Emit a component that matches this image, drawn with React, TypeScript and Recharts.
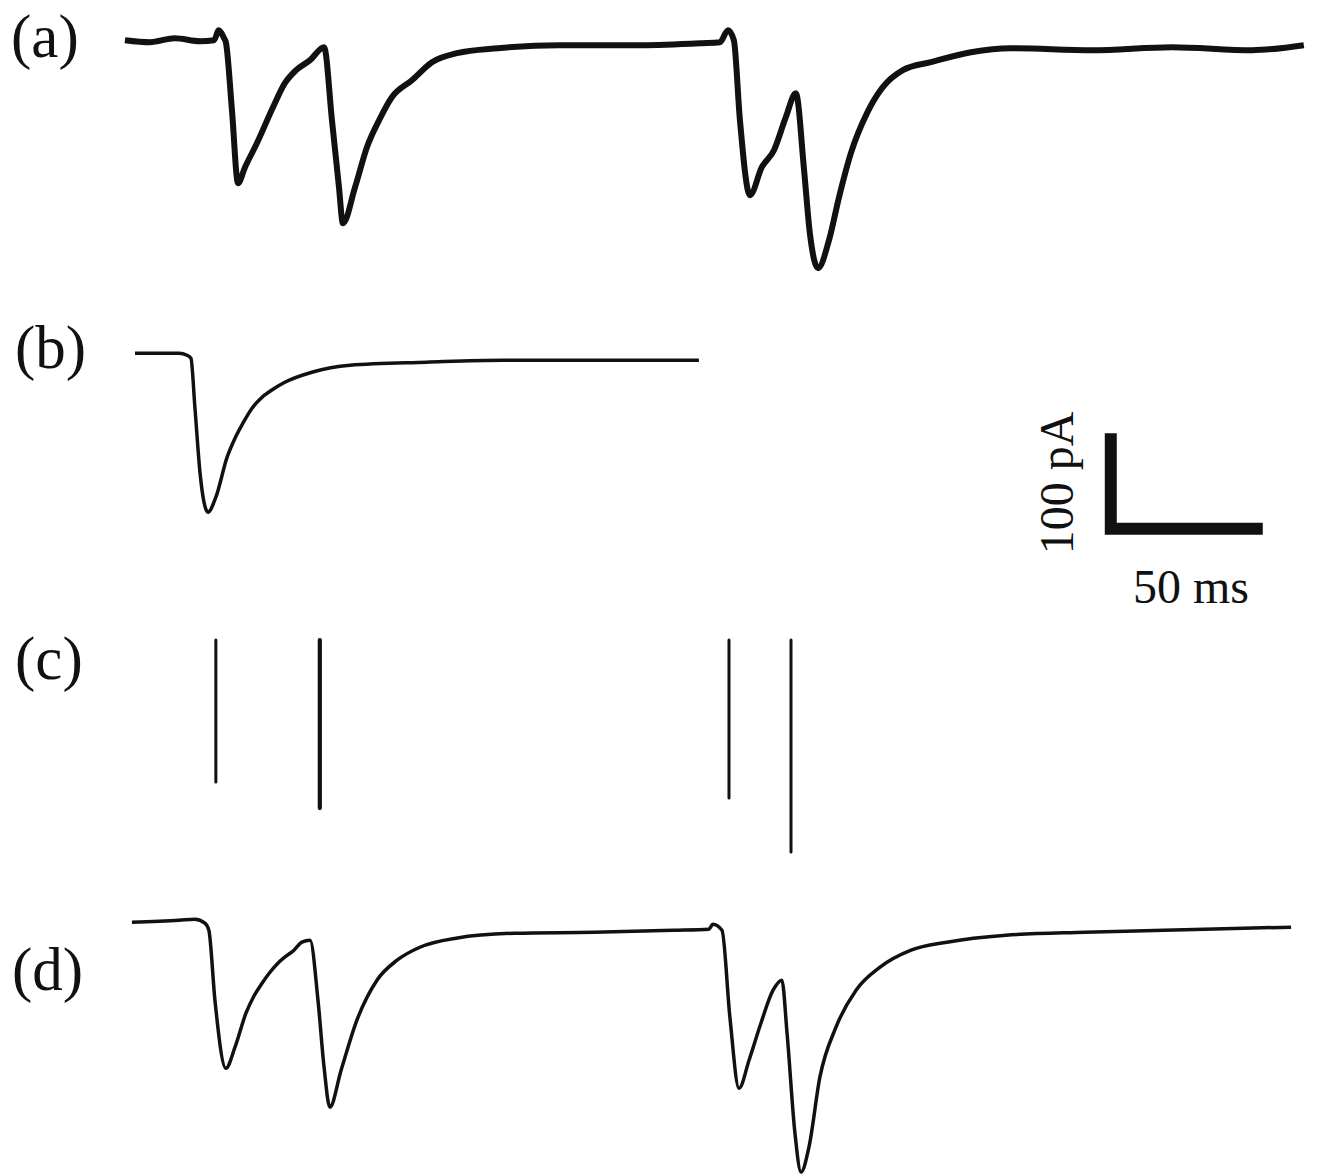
import { Line, LineChart, XAxis, YAxis } from 'recharts';

// shared time base (ms) and current scale (pA)
const T_DOMAIN: [number, number] = [-41.1, 394.1];
const PX_PER_PA = 0.955;
const W = 1323;

// (a) recorded current, pA
const recT = [
  0, 8.2, 16.4, 24.7, 29.3, 30.9, 32.6, 33.2, 35.2, 37.2, 39.5, 43.4, 48.7, 52.6, 56.3, 60.9,
  65.5, 68.1, 70.4, 71.7, 75.7, 79.6, 83.6, 87.8, 94.4, 101.0, 109.2, 122.7, 142.8, 169.7,
  189.8, 195.7, 198.4, 200.3, 202.3, 205.6, 209.5, 213.5, 217.4, 220.7, 223.4, 225.3, 228.0,
  231.6, 234.9, 238.8, 244.1, 249.3, 255.9, 265.1, 278.3, 291.4, 318.1, 344.4, 370.7, 387.8,
];
const recI = [
  0, -2.1, 2.1, -1.0, 0, 10.5, 2.1, -2.1, -73.3, -149.7, -133.0, -107.9, -70.2, -45.0, -31.4,
  -20.9, -7.3, -83.8, -153.9, -191.6, -153.9, -112.0, -83.8, -59.7, -41.9, -23.0, -13.6, -8.4,
  -5.2, -5.2, -3.1, -2.1, 10.5, 0, -83.8, -162.3, -133.0, -115.2, -80.6, -55.5, -136.1, -202.1,
  -238.7, -209.4, -164.4, -118.3, -76.4, -49.2, -31.4, -23.0, -12.6, -8.4, -10.5, -7.3, -10.5,
  -5.2,
];

// (b) unitary response, pA
const kerT = [
  3.3, 17.8, 20.4, 21.7, 23.0, 24.7, 27.3, 29.9, 33.6, 36.2, 38.8, 41.8, 45.1, 48.7, 52.6, 61.5,
  74.0, 99.3, 124.3, 149.7, 188.8,
];
const kerI = [
  0, 0, -2.1, -5.2, -56.5, -125.7, -166.5, -150.8, -108.9, -89.0, -73.3, -57.6, -46.1, -37.7,
  -30.4, -19.9, -12.6, -9.4, -7.3, -7.3, -7.3,
];

// (c) estimated release events
const spikeT = [29.9, 64.1, 198.7, 219.1];
const spikeAmp = [148.7, 175.9, 165.4, 222.0];

// (d) reconstruction, pA
const fitT = [
  2.3, 17.8, 23.0, 26.3, 27.6, 29.6, 33.2, 36.2, 39.8, 42.4, 45.1, 47.7, 50.3, 53.0, 55.6, 58.2,
  60.9, 63.5, 65.5, 67.4, 71.1, 76.3, 82.9, 89.5, 97.0, 108.9, 128.3, 154.3, 180.3, 192.1, 193.4,
  196.4, 199.0, 202.0, 205.3, 209.2, 213.2, 216.1, 217.8, 220.4, 222.4, 225.0, 228.6, 233.9,
  240.5, 248.4, 258.6, 270.4, 289.8, 315.8, 341.8, 367.8, 383.6,
];
const fitI = [
  -2.1, 0, 1.0, -3.1, -10.5, -83.8, -155.0, -133.0, -97.4, -79.6, -66.0, -54.5, -45.0, -37.7,
  -31.4, -23.0, -20.9, -83.8, -153.9, -195.8, -157.1, -104.7, -62.8, -41.9, -28.3, -18.8, -13.6,
  -12.6, -10.5, -9.4, -4.2, -10.5, -101.6, -175.9, -146.6, -107.9, -73.3, -62.8, -118.3, -223.0,
  -263.9, -237.7, -164.4, -112.0, -73.3, -49.2, -31.4, -23.0, -15.7, -12.6, -10.5, -8.4, -7.3,
];

// scale bar
const BAR_MS = 50;
const BAR_PA = 100;
const BAR_T0 = 324.3;
const BAR_I0 = -183.8;

const zip = (t: number[], v: number[]) => t.map((x, i) => ({ t: x, v: v[i] }));

const recRows = zip(recT, recI);
const kerRows = zip(kerT, kerI);
const fitRows = zip(fitT, fitI);
const barRows = [
  { t: BAR_T0, v: BAR_I0 + BAR_PA },
  { t: BAR_T0, v: BAR_I0 },
  { t: BAR_T0 + BAR_MS, v: BAR_I0 },
];
const spikeRows = spikeT.map((t, i) => [
  { t, v: 0 },
  { t, v: -spikeAmp[i] },
]);
const spikeWidths = [3, 4.2, 3, 3];

type PanelProps = {
  top: number;
  domain: [number, number];
  children: React.ReactNode;
};

function Panel({ top, domain, children }: PanelProps) {
  const height = (domain[1] - domain[0]) * PX_PER_PA;
  return (
    <div style={{ position: 'absolute', left: 0, top, width: W, height }}>
      <LineChart width={W} height={height} margin={{ top: 0, right: 0, bottom: 0, left: 0 }}>
        <XAxis type="number" dataKey="t" domain={T_DOMAIN} hide allowDataOverflow />
        <YAxis type="number" dataKey="v" domain={domain} hide allowDataOverflow />
        {children}
      </LineChart>
    </div>
  );
}

const serif = '"Liberation Serif", "DejaVu Serif", serif';

export default function App() {
  return (
    <div
      style={{
        position: 'absolute',
        left: 0,
        top: 0,
        width: W,
        height: 1175,
        background: '#fff',
        overflow: 'hidden',
      }}
    >
      <Panel top={1.8} domain={[-270, 40]}>
        <Line
          data={recRows}
          dataKey="v"
          type="monotone"
          stroke="#111"
          strokeWidth={6}
          strokeLinejoin="round"
          dot={false}
          activeDot={false}
          isAnimationActive={false}
        />
      </Panel>

      <Panel top={314.8} domain={[-200, 40]}>
        <Line
          data={kerRows}
          dataKey="v"
          type="monotone"
          stroke="#111"
          strokeWidth={3.5}
          dot={false}
          activeDot={false}
          isAnimationActive={false}
        />
        <Line
          data={barRows}
          dataKey="v"
          type="linear"
          stroke="#111"
          strokeWidth={12}
          strokeLinejoin="miter"
          strokeLinecap="butt"
          dot={false}
          activeDot={false}
          isAnimationActive={false}
        />
      </Panel>

      <Panel top={620.9} domain={[-240, 20]}>
        {spikeRows.map((rows, i) => (
          <Line
            key={i}
            data={rows}
            dataKey="v"
            type="linear"
            stroke="#111"
            strokeWidth={spikeWidths[i]}
            strokeLinecap="round"
            dot={false}
            activeDot={false}
            isAnimationActive={false}
          />
        ))}
      </Panel>

      <Panel top={881.8} domain={[-270, 40]}>
        <Line
          data={fitRows}
          dataKey="v"
          type="monotone"
          stroke="#111"
          strokeWidth={3.5}
          dot={false}
          activeDot={false}
          isAnimationActive={false}
        />
      </Panel>

      <svg
        width={W}
        height={1175}
        style={{ position: 'absolute', left: 0, top: 0, pointerEvents: 'none' }}
      >
        <g fontFamily={serif} fontSize={61} fill="#111">
          <text x={11} y={57}>(a)</text>
          <text x={15} y={368}>(b)</text>
          <text x={15} y={679}>(c)</text>
          <text x={12} y={990}>(d)</text>
        </g>
        <g fontFamily={serif} fontSize={48} fill="#111">
          <text x={1133} y={603}>50 ms</text>
          <text transform="translate(1073,483) rotate(-90)" textAnchor="middle">
            100 pA
          </text>
        </g>
      </svg>
    </div>
  );
}
